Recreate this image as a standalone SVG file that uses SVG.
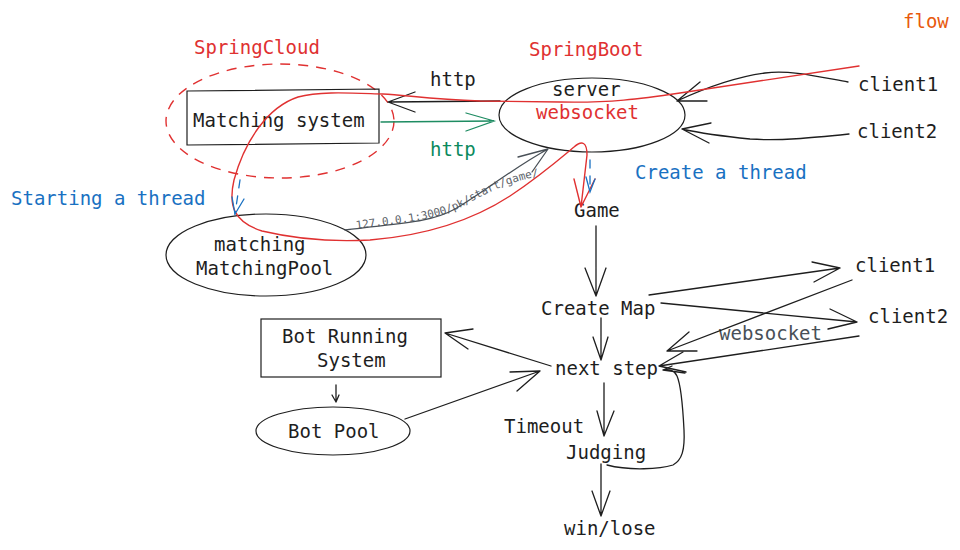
<svg xmlns="http://www.w3.org/2000/svg" width="960" height="550" viewBox="0 0 960 550">
<defs>
<style>
text{font-family:"DejaVu Sans Mono","Liberation Mono",monospace;font-size:19px;fill:#1e1e1e}
.red{fill:#e03131}
.blue{fill:#1971c2}
.green{fill:#0c8a5e}
.gray{fill:#495057}
.orange{fill:#e8590c}
.small{font-size:11px;fill:#5c636a}
.shape{fill:none;stroke:#1e1e1e;stroke-width:1.2}
.ln{fill:none;stroke:#1e1e1e;stroke-width:1.3;stroke-linecap:round;stroke-linejoin:round}
.lnred{fill:none;stroke:#e03131;stroke-width:1.4;stroke-linecap:round;stroke-linejoin:round}
.lnblue{fill:none;stroke:#1971c2;stroke-width:1.3;stroke-linecap:round}
.lngreen{fill:none;stroke:#1e8c62;stroke-width:1.3;stroke-linecap:round}
.lngray{fill:none;stroke:#495057;stroke-width:1.3;stroke-linecap:round;stroke-linejoin:round}
</style>
<path id="urlpath" d="M356,229 C410,222 440,219 463,206 C490,191 512,181 540,176"/>
</defs>
<rect width="960" height="550" fill="#ffffff"/>

<text class="orange" x="903" y="28">flow</text>

<g id="springcloud">
<text class="red" x="194" y="54">SpringCloud</text>
<ellipse cx="280" cy="121" rx="114" ry="57" fill="none" stroke="#e03131" stroke-width="1.4" stroke-dasharray="10 8"/>
</g>

<g id="matching-system">
<polygon class="shape" points="187,91 379,89 379,143 187,145"/>
<text x="193" y="127">Matching system</text>
</g>

<g id="server">
<text class="red" x="529" y="56">SpringBoot</text>
<ellipse class="shape" cx="592" cy="115" rx="93" ry="37"/>
<text x="552" y="96">server</text>
<text class="red" x="536" y="119">websocket</text>
</g>

<g id="matching-pool">
<ellipse class="shape" cx="266" cy="255" rx="100" ry="41"/>
<text x="214" y="251">matching</text>
<text x="196" y="275">MatchingPool</text>
</g>

<g id="labels">
<text class="blue" x="11" y="205">Starting a thread</text>
<text class="blue" x="635" y="179">Create a thread</text>
<text x="430" y="86">http</text>
<text class="green" x="430" y="156">http</text>
<text class="small"><textPath href="#urlpath">127.0.0.1:3000/pk/start/game/</textPath></text>
<text class="gray" x="719" y="340">websocket</text>
</g>

<g id="client1-top"><text x="858" y="91">client1</text></g>
<g id="client2-top"><text x="857" y="138">client2</text></g>
<g id="game"><text x="574" y="217">Game</text></g>
<g id="create-map"><text x="541" y="315">Create Map</text></g>
<g id="client1-bottom"><text x="855" y="272">client1</text></g>
<g id="client2-bottom"><text x="868" y="323">client2</text></g>
<g id="next-step"><text x="555" y="375">next step</text></g>
<g id="timeout"><text x="504" y="433">Timeout</text></g>
<g id="judging"><text x="566" y="459">Judging</text></g>
<g id="win-lose"><text x="564" y="535">win/lose</text></g>

<g id="bot-running-system">
<rect class="shape" x="261" y="319" width="180" height="58"/>
<text x="282" y="343">Bot Running</text>
<text x="317" y="367">System</text>
</g>

<g id="bot-pool">
<ellipse class="shape" cx="333" cy="431" rx="77" ry="24"/>
<text x="288" y="438">Bot Pool</text>
</g>

<g id="connectors">
<!-- server -> matching system (http) -->
<path class="ln" d="M500,101 L388,102 M415,92 L388,102 L415,112"/>
<!-- matching system -> server (http green) -->
<path class="lngreen" d="M381,122 L494,121 M466,113 L494,121 L466,131"/>
<!-- client1 -> server -->
<path class="ln" d="M848,82 C815,76 790,70 765,73 C735,77 705,88 677,101 M700,82 L677,101 L707,101"/>
<!-- client2 -> server -->
<path class="ln" d="M849,134 C810,138 780,141 750,139 C720,136 700,133 682,129 M711,123 L682,129 L709,143"/>
<!-- red flow curve -->
<path class="lnred" d="M859,66 L680,93 C640,99 610,103 560,102 L480,101 C430,99 405,95 383,94 C350,93 320,91 298,97 C268,107 245,140 234,180 C228,206 234,222 262,231 C300,240 335,242 370,240 C420,236 470,222 510,196 C540,176 562,157 574,147 C582,140 587,142 587,155 L581,207 M574,179 L581,207 L595,179"/>
<!-- starting a thread (blue dashed) -->
<path class="lnblue" stroke-dasharray="8 8" d="M240,180 L235,214"/>
<path class="lnblue" d="M232,197 L235,214 L244,199"/>
<!-- create a thread (blue dashed) -->
<path class="lnblue" stroke-dasharray="8 8" d="M590,160 L590,191"/>
<path class="lnblue" d="M586,177 L590,192 L595,179"/>
<!-- matching pool -> server (gray) -->
<path class="lngray" d="M345,230 C400,223 430,223 455,209 C480,195 510,170 548,149 M518,157 L548,149 L532,172"/>
<!-- Game -> Create Map -->
<path class="ln" d="M596,226 L596,296 M585,268 L596,296 L606,268"/>
<!-- Create Map -> next step -->
<path class="ln" d="M601,318 L601,360 M593,337 L601,360 L608,337"/>
<!-- Create Map -> client1 -->
<path class="ln" d="M649,295 L840,268 M812,262 L840,268 L814,282"/>
<!-- Create Map -> client2 -->
<path class="ln" d="M661,303 L857,322 M830,309 L857,322 L828,329"/>
<!-- client1 -> next step -->
<path class="ln" d="M852,280 L667,351 M689,332 L667,351 L697,351"/>
<!-- client2 -> next step -->
<path class="ln" d="M859,336 L659,366 M683,352 L659,366 L686,372"/>
<!-- Judging loop -> next step -->
<path class="ln" d="M607,465 C630,471 660,469 673,465 C682,460 685,450 684,430 C683,410 681,385 677,376 C674,370 670,369 663,370 M685,373 L663,370 L672,366"/>
<!-- next step -> Judging -->
<path class="ln" d="M604,383 L604,436 M597,411 L604,436 L614,411"/>
<!-- Judging -> win/lose -->
<path class="ln" d="M601,464 L601,516 M592,491 L601,516 L610,491"/>
<!-- next step -> Bot Running System -->
<path class="ln" d="M551,366 L445,333 M473,329 L445,333 L468,349"/>
<!-- Bot Pool -> next step -->
<path class="ln" d="M405,419 L540,371 M510,372 L540,371 L517,391"/>
<!-- Bot Running -> Bot Pool -->
<path class="ln" d="M336,385 L336,402 M332,395 L336,402 L339,395"/>
</g>
</svg>
